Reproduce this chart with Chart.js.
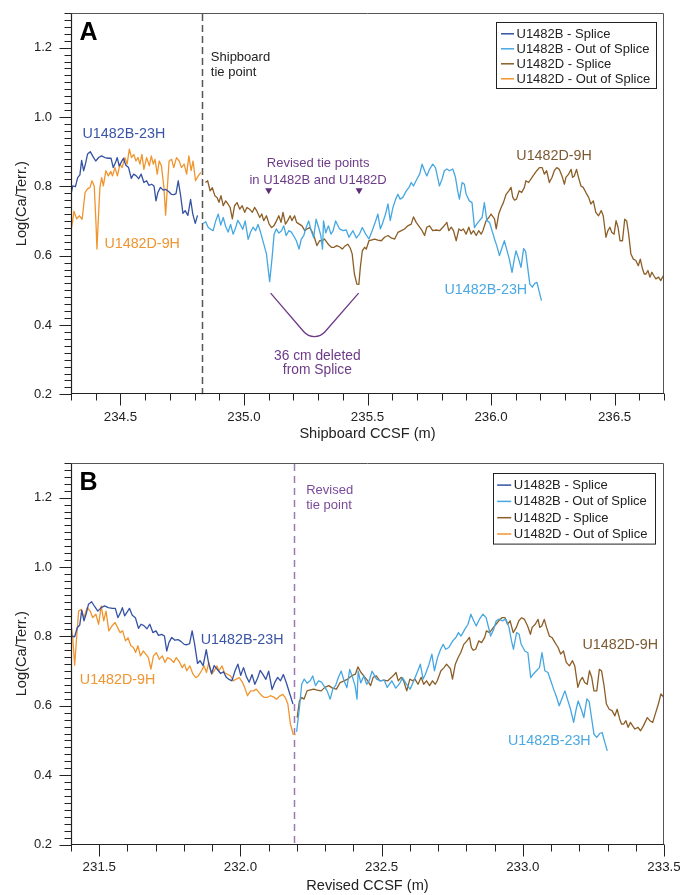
<!DOCTYPE html>
<html>
<head>
<meta charset="utf-8">
<script src="https://cdn.jsdelivr.net/npm/chart.js@4.4.1/dist/chart.umd.min.js"></script>
<style>
  html, body { margin: 0; padding: 0; background: #fff; }
  #wrap { position: relative; width: 680px; height: 895px; }
  canvas { position: absolute; left: 0; }
</style>
</head>
<body>
<div id="wrap">
  <canvas id="panelA" width="680" height="450" style="top:0"></canvas>
  <canvas id="panelB" width="680" height="445" style="top:450px"></canvas>
</div>
<script>
const FONT = "'Liberation Sans', Arial, Helvetica, sans-serif";

// Hole U1482B core 23H: [shipboard CCSF (m), log(Ca/Terr.)]
const holeB = [
  [234.300,0.777],[234.307,0.801],[234.318,0.799],[234.327,0.825],[234.336,0.833],[234.343,0.875],
  [234.351,0.845],[234.359,0.866],[234.367,0.893],[234.378,0.900],[234.388,0.887],[234.400,0.873],
  [234.412,0.883],[234.424,0.888],[234.437,0.883],[234.451,0.881],[234.462,0.881],[234.471,0.854],
  [234.481,0.870],[234.487,0.883],[234.495,0.859],[234.503,0.869],[234.512,0.881],[234.522,0.861],
  [234.533,0.854],[234.544,0.823],[234.553,0.835],[234.563,0.831],[234.574,0.822],[234.584,0.835],
  [234.595,0.811],[234.606,0.816],[234.615,0.803],[234.626,0.806],[234.636,0.801],[234.644,0.758],
  [234.652,0.783],[234.662,0.797],[234.673,0.789],[234.684,0.791],[234.695,0.785],[234.706,0.777],
  [234.716,0.776],[234.725,0.779],[234.734,0.816],[234.743,0.777],[234.753,0.722],[234.762,0.730],
  [234.773,0.716],[234.784,0.762],[234.793,0.720],[234.803,0.693],[234.812,0.716],
  [234.835,0.693],[234.845,0.698],[234.855,0.682],[234.865,0.676],[234.875,0.672],[234.886,0.701],
  [234.896,0.720],[234.906,0.688],[234.916,0.710],[234.926,0.684],[234.936,0.668],[234.946,0.690],
  [234.956,0.662],[234.966,0.680],[234.975,0.702],[234.985,0.690],[234.995,0.676],[235.005,0.700],
  [235.017,0.647],[235.027,0.668],[235.037,0.682],[235.047,0.672],[235.057,0.690],[235.067,0.668],
  [235.077,0.642],[235.091,0.605],[235.104,0.525],[235.114,0.595],[235.122,0.662],[235.131,0.677],
  [235.141,0.665],[235.152,0.672],[235.161,0.686],[235.171,0.658],[235.182,0.672],[235.192,0.668],
  [235.202,0.656],[235.212,0.643],[235.223,0.619],[235.232,0.648],[235.242,0.658],[235.252,0.682],
  [235.262,0.700],[235.272,0.672],[235.282,0.652],[235.292,0.705],[235.302,0.682],[235.311,0.658],
  [235.318,0.619],[235.322,0.700],[235.331,0.666],[235.342,0.686],[235.352,0.662],[235.361,0.672],
  [235.371,0.700],[235.387,0.677],[235.401,0.672],[235.414,0.674],[235.425,0.653],[235.441,0.672],
  [235.455,0.651],[235.468,0.663],[235.479,0.681],[235.492,0.663],[235.506,0.648],[235.519,0.672],
  [235.533,0.700],[235.542,0.720],[235.552,0.677],[235.560,0.691],[235.573,0.720],[235.583,0.749],
  [235.592,0.701],[235.603,0.739],[235.614,0.763],[235.623,0.777],[235.632,0.763],[235.643,0.768],
  [235.657,0.787],[235.668,0.797],[235.677,0.811],[235.686,0.801],[235.700,0.821],[235.711,0.835],
  [235.721,0.864],[235.731,0.845],[235.740,0.830],[235.751,0.849],[235.764,0.864],[235.775,0.854],
  [235.784,0.825],[235.791,0.801],[235.802,0.821],[235.811,0.845],[235.821,0.850],[235.832,0.845],
  [235.845,0.850],[235.856,0.826],[235.865,0.787],[235.872,0.763],[235.883,0.811],[235.892,0.806],
  [235.899,0.778],[235.912,0.758],[235.923,0.753],[235.933,0.681],[235.942,0.691],[235.953,0.701],
  [235.964,0.710],[235.973,0.753],[235.983,0.701],[235.994,0.696],[236.004,0.672],[236.014,0.648],
  [236.023,0.629],[236.034,0.600],[236.045,0.624],[236.054,0.643],[236.063,0.619],[236.074,0.590],
  [236.085,0.552],[236.094,0.590],[236.101,0.614],[236.112,0.590],[236.121,0.566],[236.132,0.620],
  [236.140,0.612],[236.149,0.562],[236.157,0.518],[236.167,0.509],[236.177,0.520],[236.186,0.523],
  [236.194,0.499],[236.204,0.470]
];

// Hole U1482D core 9H: [shipboard CCSF (m), log(Ca/Terr.)]
const holeD = [
  [234.300,0.672],[234.307,0.701],[234.312,0.728],[234.323,0.706],[234.334,0.715],[234.345,0.705],
  [234.357,0.782],[234.366,0.792],[234.377,0.797],[234.385,0.816],[234.394,0.801],[234.401,0.696],
  [234.405,0.619],[234.410,0.696],[234.417,0.797],[234.424,0.825],[234.431,0.801],[234.441,0.845],
  [234.451,0.830],[234.461,0.843],[234.468,0.830],[234.478,0.854],[234.488,0.830],[234.498,0.864],
  [234.507,0.854],[234.518,0.883],[234.527,0.864],[234.536,0.907],[234.545,0.883],[234.554,0.892],
  [234.563,0.873],[234.571,0.883],[234.579,0.864],[234.587,0.892],[234.595,0.849],[234.606,0.883],
  [234.617,0.859],[234.625,0.888],[234.633,0.864],[234.640,0.878],[234.649,0.835],[234.657,0.873],
  [234.666,0.859],[234.676,0.797],[234.683,0.717],[234.690,0.797],[234.697,0.873],[234.707,0.878],
  [234.716,0.854],[234.727,0.883],[234.738,0.873],[234.747,0.854],[234.758,0.864],[234.768,0.835],
  [234.777,0.888],[234.786,0.845],[234.794,0.873],[234.804,0.816],[234.815,0.830],[234.826,0.840],
  [234.844,0.811],[234.853,0.816],[234.863,0.787],[234.872,0.796],[234.882,0.773],[234.891,0.768],
  [234.899,0.754],[234.907,0.773],[234.916,0.744],[234.926,0.758],[234.935,0.749],[234.944,0.739],
  [234.953,0.706],[234.962,0.744],[234.972,0.753],[234.983,0.734],[234.993,0.744],[235.003,0.725],
  [235.012,0.739],[235.023,0.734],[235.034,0.725],[235.043,0.739],[235.052,0.729],[235.064,0.710],
  [235.072,0.720],[235.080,0.701],[235.091,0.715],[235.102,0.691],[235.112,0.681],[235.121,0.686],
  [235.132,0.701],[235.141,0.715],[235.150,0.696],[235.158,0.725],[235.168,0.691],[235.177,0.701],
  [235.187,0.715],[235.194,0.701],[235.205,0.715],[235.213,0.696],[235.224,0.691],[235.235,0.686],
  [235.246,0.672],[235.255,0.677],[235.266,0.681],[235.276,0.669],[235.285,0.653],[235.295,0.629],
  [235.306,0.643],[235.317,0.643],[235.326,0.648],[235.336,0.638],[235.346,0.629],[235.354,0.624],
  [235.365,0.624],[235.376,0.629],[235.388,0.625],[235.398,0.619],[235.409,0.628],[235.420,0.633],
  [235.430,0.622],[235.438,0.605],[235.447,0.547],[235.457,0.518],[235.465,0.517],[235.471,0.566],
  [235.479,0.614],[235.488,0.624],[235.495,0.619],[235.506,0.643],[235.515,0.645],[235.529,0.648],
  [235.542,0.645],[235.556,0.643],[235.569,0.653],[235.583,0.658],[235.596,0.651],[235.610,0.648],
  [235.623,0.667],[235.637,0.672],[235.650,0.677],[235.663,0.686],[235.677,0.691],[235.686,0.712],
  [235.697,0.696],[235.711,0.682],[235.721,0.672],[235.731,0.658],[235.740,0.682],[235.751,0.686],
  [235.764,0.672],[235.778,0.674],[235.792,0.672],[235.805,0.682],[235.816,0.691],[235.821,0.696],
  [235.829,0.672],[235.839,0.682],[235.848,0.672],[235.859,0.643],[235.870,0.677],[235.879,0.672],
  [235.888,0.677],[235.899,0.662],[235.910,0.682],[235.919,0.662],[235.929,0.672],[235.940,0.658],
  [235.950,0.672],[235.960,0.662],[235.967,0.672],[235.980,0.701],[235.991,0.710],[236.000,0.720],
  [236.014,0.706],[236.021,0.677],[236.031,0.720],[236.041,0.739],[236.050,0.753],[236.061,0.777],
  [236.072,0.787],[236.081,0.797],[236.088,0.768],[236.095,0.760],[236.103,0.763],[236.114,0.787],
  [236.124,0.782],[236.135,0.797],[236.141,0.816],[236.152,0.811],[236.166,0.826],[236.175,0.835],
  [236.185,0.845],[236.196,0.854],[236.207,0.854],[236.216,0.835],[236.225,0.845],[236.236,0.811],
  [236.247,0.826],[236.256,0.845],[236.266,0.854],[236.276,0.849],[236.287,0.830],[236.297,0.806],
  [236.303,0.826],[236.314,0.835],[236.324,0.849],[236.330,0.826],[236.337,0.830],[236.346,0.849],
  [236.354,0.826],[236.364,0.801],[236.373,0.797],[236.384,0.782],[236.395,0.768],[236.404,0.749],
  [236.414,0.758],[236.424,0.725],[236.435,0.715],[236.446,0.730],[236.454,0.715],[236.465,0.653],
  [236.473,0.672],[236.481,0.682],[236.489,0.667],[236.498,0.662],[236.506,0.701],[236.514,0.682],
  [236.522,0.643],[236.532,0.643],[236.541,0.705],[236.549,0.700],[236.557,0.662],[236.566,0.605],
  [236.576,0.590],[236.586,0.586],[236.596,0.571],[236.604,0.590],[236.613,0.562],[236.620,0.547],
  [236.627,0.547],[236.635,0.557],[236.643,0.538],[236.651,0.552],[236.659,0.542],[236.667,0.533],
  [236.678,0.538],[236.687,0.528],[236.697,0.542],[236.711,0.566],[236.720,0.557],[236.730,0.552],
  [236.739,0.576],[236.750,0.605],[236.759,0.634],[236.770,0.624],[236.780,0.640]
];

// Splice tie points (shipboard CCSF, m) and depth shifts to the revised scale
const shipboardTie = 234.83;
const revisedTieDepthB = 235.10;   // revised tie in U1482B
const revisedTieDepthD = 235.466;  // revised tie in U1482D
const shiftB = 2.905;
const shiftD = 3.27;
const revisedTie = 232.19;         // revised tie on revised CCSF

// Axis ranges and labels
const rangeA = [234.3, 236.7];
const rangeB = [231.4, 233.5];
const rangeY = [0.2, 1.3];
const seriesNames = ['U1482B - Splice', 'U1482B - Out of Splice', 'U1482D - Splice', 'U1482D - Out of Splice'];
const colors = { bSplice: '#3451a3', bOut: '#45a7e2', dSplice: '#8c5e27', dOut: '#f0952e' };

function points(rows, keep, shift) {
  const out = [];
  for (const [depth, val] of rows) {
    if (keep(depth)) out.push({ x: +(depth - shift).toFixed(3), y: val });
  }
  return out;
}

function lineSet(label, color, data) {
  return {
    label, data, borderColor: color, backgroundColor: color,
    borderWidth: 1.3, pointRadius: 0, tension: 0, fill: false,
    borderJoinStyle: 'round'
  };
}

function line(ctx, x0, y0, x1, y1) {
  ctx.beginPath(); ctx.moveTo(x0, y0); ctx.lineTo(x1, y1); ctx.stroke();
}

// Frame, tick marks, tie line, notes and legend for one panel
function decor(cfg) {
  return {
    id: 'decor',
    beforeDatasetsDraw(chart) {
      const { ctx, chartArea: a, scales: { x } } = chart;
      const px = Math.round(x.getPixelForValue(cfg.tie.value)) + 0.5;
      ctx.save();
      ctx.strokeStyle = cfg.tie.color;
      ctx.lineWidth = 1.5;
      ctx.setLineDash(cfg.tie.dash);
      line(ctx, px, a.top + 1, px, a.bottom);
      ctx.restore();
    },
    afterDraw(chart) {
      const { ctx, chartArea: a, scales: { x, y } } = chart;
      ctx.save();

      // plot frame
      const L = Math.round(a.left) + 0.5, R = Math.round(a.right) - 0.5;
      const T = Math.round(a.top) + 0.5, B = Math.round(a.bottom) - 0.5;
      ctx.strokeStyle = '#555';
      ctx.lineWidth = 1;
      line(ctx, L, T, R, T);
      line(ctx, R, T, R, B);
      ctx.strokeStyle = '#222';
      ctx.lineWidth = 1.2;
      line(ctx, L, T, L, B + 0.5);
      line(ctx, L - 0.5, B, R + 0.5, B);

      // outward tick marks: x every 0.1 (long at 0.5), y every 0.02 (long at 0.2)
      ctx.lineWidth = 1;
      ctx.strokeStyle = '#222';
      for (let k = Math.ceil(x.min * 10 - 1e-6); k <= Math.floor(x.max * 10 + 1e-6); k++) {
        const p = Math.round(x.getPixelForValue(k / 10)) + 0.5;
        line(ctx, p, B, p, B + (k % 5 === 0 ? 12 : 7));
      }
      for (let k = Math.ceil(y.min * 50 - 1e-6); k <= Math.floor(y.max * 50 + 1e-6); k++) {
        const p = Math.round(y.getPixelForValue(k / 50)) + 0.5;
        line(ctx, L - (k % 10 === 0 ? 12 : 7), p, L, p);
      }

      // panel letter
      ctx.fillStyle = '#000';
      ctx.font = 'bold 25px ' + FONT;
      ctx.textAlign = 'left';
      ctx.textBaseline = 'alphabetic';
      ctx.fillText(cfg.letter, a.left + 8.5, a.top + 27);

      // text notes in data coordinates
      ctx.textBaseline = 'middle';
      for (const n of cfg.notes) {
        ctx.font = (n.size || 13) + 'px ' + FONT;
        ctx.fillStyle = n.color;
        ctx.textAlign = n.align || 'center';
        ctx.fillText(n.text, x.getPixelForValue(n.x), y.getPixelForValue(n.y));
      }

      // tie point markers
      if (cfg.markers) {
        ctx.fillStyle = cfg.markers.color;
        for (const m of cfg.markers.at) {
          const px = x.getPixelForValue(m), py = y.getPixelForValue(cfg.markers.y);
          ctx.beginPath();
          ctx.moveTo(px - 3.5, py - 6);
          ctx.lineTo(px + 3.5, py - 6);
          ctx.lineTo(px, py);
          ctx.closePath();
          ctx.fill();
        }
      }

      // deleted-interval bracket
      if (cfg.bracket) {
        const [p0, p1, p2] = cfg.bracket.pts.map(p => [x.getPixelForValue(p[0]), y.getPixelForValue(p[1])]);
        ctx.strokeStyle = cfg.bracket.color;
        ctx.lineWidth = 1.3;
        ctx.beginPath();
        ctx.moveTo(p0[0], p0[1]);
        ctx.arcTo(p1[0], p1[1], p2[0], p2[1], 14);
        ctx.lineTo(p2[0], p2[1]);
        ctx.stroke();
      }

      // legend box
      const lg = cfg.legend;
      const bx = Math.round(a.right + lg.dx) + 0.5, by = Math.round(a.top + lg.dy) + 0.5;
      ctx.fillStyle = '#fff';
      ctx.fillRect(bx, by, lg.w, lg.h);
      ctx.strokeStyle = '#222';
      ctx.lineWidth = 1;
      ctx.strokeRect(bx, by, lg.w, lg.h);
      ctx.font = '13px ' + FONT;
      ctx.textAlign = 'left';
      ctx.textBaseline = 'middle';
      chart.data.datasets.forEach((ds, i) => {
        const yy = by + lg.first + i * lg.row;
        ctx.strokeStyle = ds.borderColor;
        ctx.lineWidth = 1.5;
        line(ctx, bx + lg.s0, yy, bx + lg.s1, yy);
        ctx.fillStyle = '#222';
        ctx.fillText(ds.label, bx + lg.tx, yy + 0.5);
      });
      ctx.restore();
    }
  };
}

function makeChart(id, range, datasets, xTitle, bottomHeight, titlePad, cfg) {
  return new Chart(document.getElementById(id), {
    type: 'line',
    data: { datasets },
    options: {
      responsive: false,
      animation: false,
      devicePixelRatio: 1,
      events: [],
      layout: { padding: { top: 13, right: 16, bottom: 0, left: 0 } },
      plugins: { legend: { display: false }, tooltip: { enabled: false } },
      scales: {
        x: {
          type: 'linear', min: range[0], max: range[1],
          grid: { display: false, drawTicks: false },
          border: { display: false },
          ticks: {
            stepSize: 0.5, includeBounds: false, autoSkip: false, maxRotation: 0,
            padding: 15, color: '#222', font: { size: 13.3, family: FONT },
            callback: v => v.toFixed(1)
          },
          title: {
            display: true, text: xTitle, color: '#222',
            font: { size: 14.6, family: FONT }, padding: { top: 0, bottom: titlePad }
          },
          afterFit: s => {
            s.height = bottomHeight;
            s.paddingLeft = 0; s.paddingRight = 0;
          }
        },
        y: {
          type: 'linear', min: rangeY[0], max: rangeY[1],
          grid: { display: false, drawTicks: false },
          border: { display: false },
          ticks: {
            stepSize: 0.2, includeBounds: false, padding: 19, color: '#222',
            font: { size: 13, family: FONT },
            callback: v => v.toFixed(1)
          },
          title: {
            display: true, text: 'Log(Ca/Terr.)', color: '#222',
            font: { size: 14.6, family: FONT }, padding: { top: 13.3, bottom: 0 }
          },
          afterFit: s => {
            s.width = 71;
            s.paddingTop = 0; s.paddingBottom = 0;
          }
        }
      }
    },
    plugins: [decor(cfg)]
  });
}

// Panel A: shipboard splice
makeChart('panelA', rangeA, [
  lineSet(seriesNames[0], colors.bSplice, points(holeB, d => d <= shipboardTie, 0)),
  lineSet(seriesNames[1], colors.bOut,    points(holeB, d => d > shipboardTie, 0)),
  lineSet(seriesNames[2], colors.dSplice, points(holeD, d => d > shipboardTie, 0)),
  lineSet(seriesNames[3], colors.dOut,    points(holeD, d => d <= shipboardTie, 0))
], 'Shipboard CCSF (m)', 55.7, 7.3, {
  letter: 'A',
  tie: { value: shipboardTie, color: '#555', dash: [7, 4] },
  notes: [
    { text: 'Shipboard', x: 234.866, y: 1.171, color: '#222', align: 'left' },
    { text: 'tie point', x: 234.866, y: 1.128, color: '#222', align: 'left' },
    { text: 'U1482B-23H', x: 234.514, y: 0.951, color: '#3a55a6', size: 14.3 },
    { text: 'U1482D-9H', x: 234.588, y: 0.632, color: '#ef9532', size: 14.3 },
    { text: 'Revised tie points', x: 235.30, y: 0.865, color: '#6d3a88' },
    { text: 'in U1482B and U1482D', x: 235.30, y: 0.817, color: '#6d3a88' },
    { text: '36 cm deleted', x: 235.297, y: 0.311, color: '#6d3a88', size: 13.8 },
    { text: 'from Splice', x: 235.297, y: 0.270, color: '#6d3a88', size: 13.8 },
    { text: 'U1482D-9H', x: 236.255, y: 0.886, color: '#7c5a33', size: 14.3 },
    { text: 'U1482B-23H', x: 235.979, y: 0.500, color: '#4aa9e3', size: 14.3 }
  ],
  markers: { at: [revisedTieDepthB, revisedTieDepthD], y: 0.777, color: '#5e2c7a' },
  bracket: { pts: [[235.108, 0.492], [235.285, 0.345], [235.464, 0.492]], color: '#6d3a88' },
  legend: { dx: -168, dy: 9, w: 160, h: 66, first: 11.3, row: 15, s0: 4.5, s1: 17.5, tx: 20 }
});

// Panel B: revised splice
makeChart('panelB', rangeB, [
  lineSet(seriesNames[0], colors.bSplice, points(holeB, d => d <= revisedTieDepthB, shiftB)),
  lineSet(seriesNames[1], colors.bOut,    points(holeB, d => d > revisedTieDepthB, shiftB)),
  lineSet(seriesNames[2], colors.dSplice, points(holeD, d => d > revisedTieDepthD, shiftD)),
  lineSet(seriesNames[3], colors.dOut,    points(holeD, d => d <= revisedTieDepthD, shiftD))
], 'Revised CCSF (m)', 50.5, 0.4, {
  letter: 'B',
  tie: { value: revisedTie, color: '#9a78b6', dash: [7, 5] },
  notes: [
    { text: 'Revised', x: 232.233, y: 1.222, color: '#7a4a98', align: 'left' },
    { text: 'tie point', x: 232.233, y: 1.177, color: '#7a4a98', align: 'left' },
    { text: 'U1482B-23H', x: 232.006, y: 0.790, color: '#3a55a6', size: 14.3 },
    { text: 'U1482D-9H', x: 231.565, y: 0.675, color: '#ef9532', size: 14.3 },
    { text: 'U1482D-9H', x: 233.345, y: 0.774, color: '#7c5a33', size: 14.3 },
    { text: 'U1482B-23H', x: 233.094, y: 0.498, color: '#4aa9e3', size: 14.3 }
  ],
  legend: { dx: -171, dy: 9.7, w: 162, h: 70.6, first: 11.6, row: 16.3, s0: 3.7, s1: 17.7, tx: 20.3 }
});
</script>
</body>
</html>
